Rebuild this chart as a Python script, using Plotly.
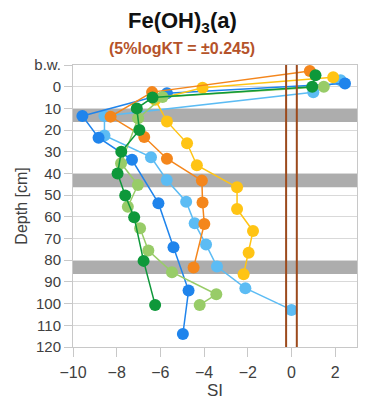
import plotly.graph_objects as go

# Depth ticks (b.w. = bottom water plotted at -10)
depth_tickvals = [-10, 0, 10, 20, 30, 40, 50, 60, 70, 80, 90, 100, 110, 120]
depth_ticktext = ["b.w.", "0", "10", "20", "30", "40", "50", "60", "70", "80", "90", "100", "110", "120"]
si_tickvals = [-10, -8, -6, -4, -2, 0, 2]

# Series values (SI, depth)
lightblue_si = [2.25, 1.0, -8.56, -8.56, -6.43, -5.71, -4.82, -4.43, -3.91, -3.41, -2.11, 0.0]
lightblue_d = [-3.0, 2.6, 13.5, 22.5, 32.5, 43.0, 53.0, 63.0, 72.8, 82.9, 92.9, 102.9]

darkblue_si = [2.45, -5.7, -9.57, -8.83, -7.3, -6.09, -5.4, -4.71, -4.97]
darkblue_d = [-1.5, 3.0, 13.5, 23.5, 33.7, 53.7, 74.0, 94.0, 114.0]

yellow_si = [1.91, -4.07, -6.24, -5.7, -4.78, -4.33, -2.49, -2.49, -1.76, -1.96, -2.19]
yellow_d = [-4.3, 0.5, 6.0, 16.0, 26.1, 36.2, 46.4, 56.4, 66.5, 76.5, 86.5]

orange_si = [0.84, -6.38, -8.28, -6.74, -5.7, -4.1, -4.07, -3.99, -4.48]
orange_d = [-7.2, 2.5, 13.8, 23.2, 33.2, 43.3, 53.4, 63.3, 83.4]

lightgreen_si = [1.48, -5.9, -7.02, -7.8, -7.03, -7.49, -6.93, -6.55, -5.47, -3.44, -4.2]
lightgreen_d = [0.0, 4.8, 14.6, 35.3, 45.3, 55.3, 65.3, 75.5, 85.5, 95.7, 100.6]

darkgreen_si = [1.1, 0.95, -6.36, -7.08, -6.96, -7.79, -7.96, -7.61, -7.2, -6.77, -6.24]
darkgreen_d = [-5.3, 0.0, 5.0, 10.0, 20.0, 30.0, 40.0, 50.2, 60.2, 80.3, 100.6]

bands = [(10, 16.3), (40.3, 46.4), (80.3, 86.3)]
tolerance = 0.245

series = [
    (lightblue_si, lightblue_d, "#5cbcf4"),
    (darkblue_si, darkblue_d, "#1f84ec"),
    (yellow_si, yellow_d, "#ffc414"),
    (orange_si, orange_d, "#f4861c"),
    (lightgreen_si, lightgreen_d, "#98cc68"),
    (darkgreen_si, darkgreen_d, "#0e983a"),
]

fig = go.Figure()
for xs, ys, c in series:
    fig.add_trace(go.Scatter(x=xs, y=ys, mode="lines+markers",
                             line=dict(color=c, width=1.5),
                             marker=dict(color=c, size=12),
                             showlegend=False))

shapes = []
for y0, y1 in bands:
    shapes.append(dict(type="rect", xref="paper", x0=0, x1=1, yref="y", y0=y0, y1=y1,
                       fillcolor="#adadad", line=dict(width=0), layer="below"))
for xv in (-tolerance, tolerance):
    shapes.append(dict(type="line", xref="x", x0=xv, x1=xv, yref="paper", y0=0, y1=1,
                       line=dict(color="#9c4a1c", width=2), layer="above"))

fig.update_layout(
    width=371, height=400,
    margin=dict(l=73, r=14, t=65, b=53),
    paper_bgcolor="white", plot_bgcolor="white",
    font=dict(family="Liberation Sans, Arial, sans-serif", color="#404040", size=15),
    shapes=shapes,
    annotations=[
        dict(text="<b>Fe(OH)<sub>3</sub>(a)</b>", xref="paper", yref="paper", x=0.385, y=1,
             xanchor="center", yanchor="bottom", yshift=27, showarrow=False,
             font=dict(size=22, color="#111111")),
        dict(text="<b>(5%logKT = ±0.245)</b>", xref="paper", yref="paper", x=0.385, y=1,
             xanchor="center", yanchor="bottom", yshift=6, showarrow=False,
             font=dict(size=16, color="#b5532a")),
    ],
    xaxis=dict(range=[-10, 3], tickvals=si_tickvals, showgrid=False, zeroline=False,
               showline=True, linecolor="#c8c8c8", mirror=True,
               ticks="outside", ticklen=9, tickcolor="#c8c8c8",
               ticklabelstandoff=2, automargin=False,
               tickfont=dict(size=16),
               title=dict(text="SI", standoff=5, font=dict(size=17))),
    yaxis=dict(range=[120, -10], tickvals=depth_tickvals, ticktext=depth_ticktext,
               showgrid=True, gridcolor="#d9d9d9", zeroline=False,
               showline=True, linecolor="#c8c8c8", mirror=True,
               ticks="outside", ticklen=8, tickcolor="#c8c8c8",
               tickfont=dict(size=15), automargin=False,
               title=dict(text="Depth [cm]", standoff=2, font=dict(size=16))),
)

fig.write_html("out.html")
